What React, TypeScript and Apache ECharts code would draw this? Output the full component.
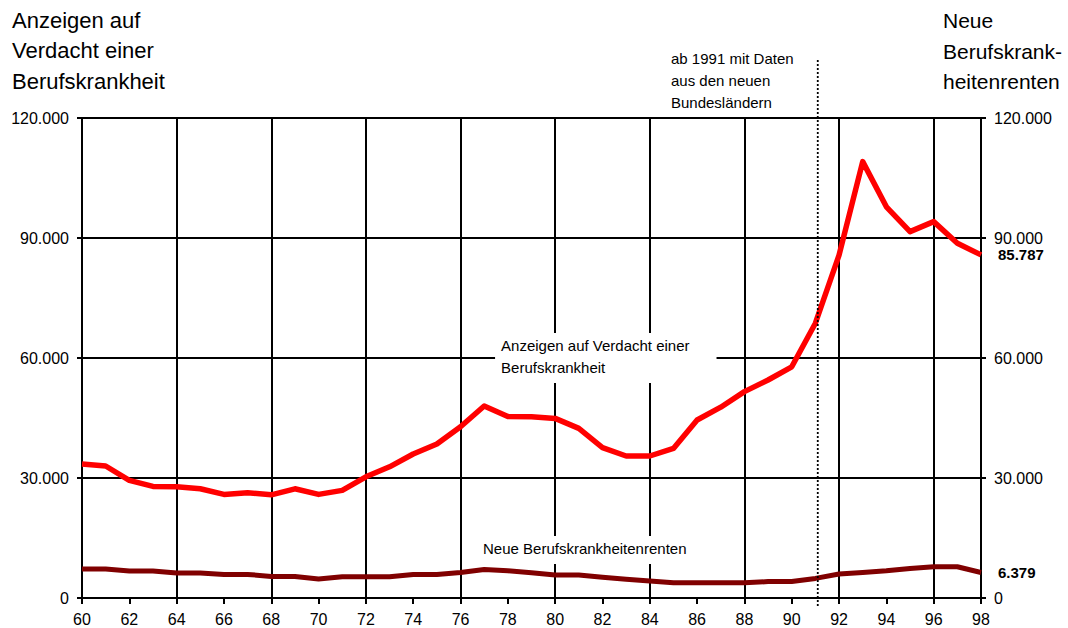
import { useEffect, useRef } from "react";
import * as echarts from "echarts";

const years = [60, 61, 62, 63, 64, 65, 66, 67, 68, 69, 70, 71, 72, 73, 74, 75, 76, 77, 78, 79, 80, 81, 82, 83, 84, 85, 86, 87, 88, 89, 90, 91, 92, 93, 94, 95, 96, 97, 98];
const anzeigen = [33500, 33000, 29400, 27900, 27800, 27300, 25900, 26300, 25800, 27300, 25900, 26900, 30300, 32800, 36000, 38500, 42800, 48000, 45400, 45300, 44900, 42400, 37600, 35500, 35500, 37400, 44500, 47700, 51600, 54500, 57800, 68700, 85700, 109100, 97800, 91600, 94100, 88700, 85787];
const renten = [7250, 7250, 6750, 6750, 6250, 6250, 5900, 5900, 5400, 5400, 4750, 5300, 5300, 5300, 5900, 5900, 6400, 7150, 6800, 6300, 5750, 5750, 5200, 4700, 4250, 3800, 3800, 3800, 3800, 4100, 4100, 4900, 6000, 6400, 6800, 7400, 7800, 7800, 6379];

const leftTitle = "Anzeigen auf\nVerdacht einer\nBerufskrankheit";
const rightTitle = "Neue\nBerufskrank-\nheitenrenten";
const noteText = "ab 1991 mit Daten\naus den neuen\nBundesländern";
const anzeigenLabel = "Anzeigen auf Verdacht einer\nBerufskrankheit";
const rentenLabel = "Neue Berufskrankheitenrenten";
const breakYear = 91.1;

const FONT = "'Liberation Sans', Arial, sans-serif";

function fmt(v: number): string {
  return String(Math.round(v)).replace(/\B(?=(\d{3})+(?!\d))/g, ".");
}

export default function App() {
  const ref = useRef<HTMLDivElement>(null);
  useEffect(() => {
    const chart = echarts.init(ref.current!, null, { renderer: "svg" });
    const axisLineStyle = { color: "#000", width: 2 };
    const yCommon = {
      type: "value",
      min: 0,
      max: 120000,
      interval: 30000,
      axisLine: { show: true, lineStyle: axisLineStyle },
      axisTick: { show: true, inside: false, length: 5, lineStyle: axisLineStyle },
      axisLabel: {
        margin: 13,
        color: "#000",
        fontSize: 16,
        fontFamily: FONT,
        formatter: (v: number) => fmt(v),
      },
    };
    const option: any = {
      animation: false,
      backgroundColor: "#fff",
      grid: { left: 82, right: 87, top: 118, bottom: 30, containLabel: false },
      xAxis: [
        {
          type: "value",
          min: 60,
          max: 98,
          interval: 2,
          position: "bottom",
          axisLine: { show: true, onZero: false, lineStyle: axisLineStyle },
          axisTick: { show: true, inside: false, length: 6, lineStyle: axisLineStyle },
          axisLabel: { margin: 13, color: "#000", fontSize: 16, fontFamily: FONT },
          splitLine: { show: false },
        },
        {
          type: "value",
          min: 60,
          max: 98,
          interval: 4,
          position: "top",
          axisLine: { show: false },
          axisTick: { show: false },
          axisLabel: { show: false },
          splitLine: { show: true, lineStyle: axisLineStyle },
        },
      ],
      yAxis: [
        {
          ...yCommon,
          position: "left",
          splitLine: { show: true, lineStyle: axisLineStyle },
        },
        {
          ...yCommon,
          position: "right",
          splitLine: { show: false },
        },
      ],
      series: [
        {
          name: "Anzeigen auf Verdacht einer Berufskrankheit",
          type: "line",
          xAxisIndex: 0,
          yAxisIndex: 0,
          data: years.map((y, i) => [y, anzeigen[i]]),
          showSymbol: false,
          symbol: "none",
          lineStyle: { color: "#ff0000", width: 5.5, join: "round" },
          z: 5,
          endLabel: {
            show: true,
            distance: 17,
            formatter: (p: any) => fmt(p.value[1]),
            color: "#000",
            fontWeight: "bold",
            fontSize: 15,
            fontFamily: FONT,
          },
        },
        {
          name: "Neue Berufskrankheitenrenten",
          type: "line",
          xAxisIndex: 0,
          yAxisIndex: 0,
          data: years.map((y, i) => [y, renten[i]]),
          showSymbol: false,
          symbol: "none",
          lineStyle: { color: "#800000", width: 5, join: "round" },
          z: 5,
          endLabel: {
            show: true,
            distance: 17,
            formatter: (p: any) => fmt(p.value[1]),
            color: "#000",
            fontWeight: "bold",
            fontSize: 15,
            fontFamily: FONT,
          },
        },
      ],
    };
    chart.setOption(option);

    const px = (x: number, y: number) =>
      chart.convertToPixel({ xAxisIndex: 0, yAxisIndex: 0 }, [x, y]) as number[];
    const lineX = px(breakYear, 0)[0];
    const topY = px(60, 120000)[1];
    const bottomY = px(60, 0)[1];
    const box1 = px(77.46, 66250);
    const box2 = px(76.74, 15500);

    chart.setOption({
      graphic: [
        {
          type: "text",
          left: 12,
          top: 5,
          z: 100,
          style: {
            text: leftTitle,
            fill: "#000",
            font: `22px ${FONT}`,
            lineHeight: 30.5,
          },
        },
        {
          type: "text",
          left: 943,
          top: 5.5,
          z: 100,
          style: {
            text: rightTitle,
            fill: "#000",
            font: `21px ${FONT}`,
            lineHeight: 30.5,
          },
        },
        {
          type: "text",
          left: 671,
          top: 47,
          z: 100,
          style: {
            text: noteText,
            fill: "#000",
            font: `15px ${FONT}`,
            lineHeight: 22,
          },
        },
        {
          type: "line",
          z: 100,
          shape: { x1: lineX, y1: topY - 58, x2: lineX, y2: bottomY + 10 },
          style: { stroke: "#000", lineWidth: 1.8, lineDash: [2, 2] },
        },
        {
          type: "text",
          x: box1[0],
          y: box1[1],
          z: 100,
          style: {
            text: anzeigenLabel,
            fill: "#000",
            font: `15px ${FONT}`,
            lineHeight: 22,
            backgroundColor: "#fff",
            padding: [1, 27, 5, 6],
          },
        },
        {
          type: "text",
          x: box2[0],
          y: box2[1],
          z: 100,
          style: {
            text: rentenLabel,
            fill: "#000",
            font: `15px ${FONT}`,
            lineHeight: 22,
            backgroundColor: "#fff",
            padding: [1, 8, 5, 5],
          },
        },
      ],
    });

    return () => chart.dispose();
  }, []);
  return (
    <div
      ref={ref}
      style={{ position: "fixed", left: 0, top: 0, width: 1068, height: 628, background: "#fff" }}
    />
  );
}
